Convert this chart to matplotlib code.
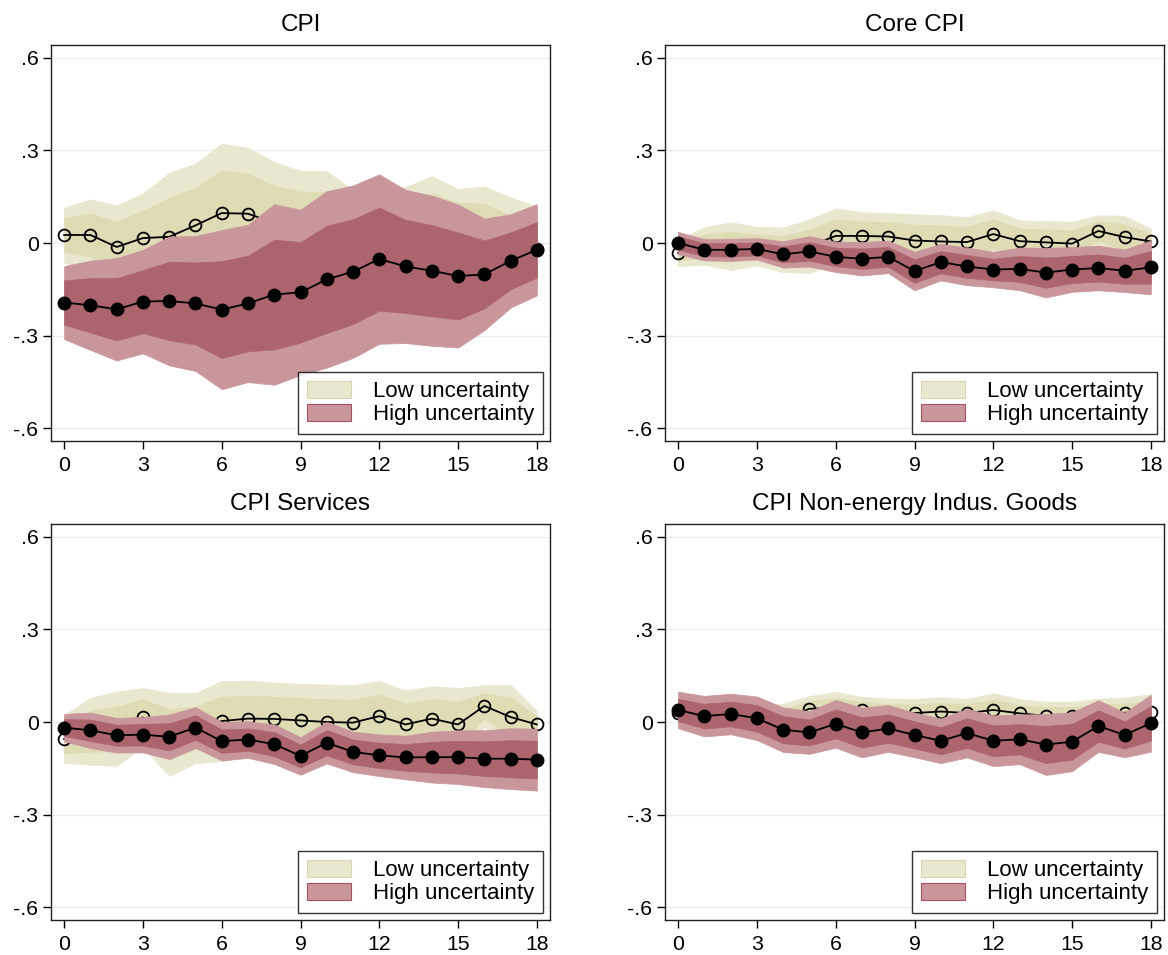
import numpy as np
import matplotlib
matplotlib.use("Agg")
import matplotlib.pyplot as plt
from matplotlib.patches import Patch

plt.rcParams['font.family'] = ['Liberation Sans', 'DejaVu Sans']

horizon = np.arange(19)

# point estimates and standard errors, low / high uncertainty regimes
cpi_low = [0.026, 0.026, -0.013, 0.016, 0.020, 0.057, 0.097, 0.095, 0.065, 0.060,
           0.060, 0.040, 0.030, 0.050, 0.080, 0.060, 0.040, 0.000, -0.020]
cpi_low_se = [0.054, 0.070, 0.082, 0.088, 0.126, 0.122, 0.137, 0.130, 0.120, 0.106,
              0.105, 0.080, 0.085, 0.080, 0.083, 0.070, 0.087, 0.090, 0.084]
cpi_high = [-0.193, -0.202, -0.215, -0.190, -0.188, -0.196, -0.216, -0.196, -0.167, -0.160,
            -0.118, -0.093, -0.052, -0.076, -0.090, -0.107, -0.102, -0.058, -0.022]
cpi_high_se = [0.072, 0.088, 0.101, 0.102, 0.127, 0.133, 0.157, 0.155, 0.178, 0.163,
               0.174, 0.170, 0.167, 0.151, 0.148, 0.141, 0.110, 0.092, 0.090]

core_low = [-0.032, -0.010, -0.010, -0.010, -0.022, -0.010, 0.023, 0.023, 0.021, 0.008,
            0.005, 0.003, 0.029, 0.006, 0.002, -0.002, 0.039, 0.019, 0.005]
core_low_se = [0.026, 0.037, 0.047, 0.038, 0.044, 0.053, 0.054, 0.047, 0.046, 0.052,
               0.052, 0.049, 0.047, 0.041, 0.042, 0.043, 0.031, 0.042, 0.025]
core_high = [0.000, -0.022, -0.022, -0.019, -0.037, -0.027, -0.045, -0.051, -0.045, -0.091,
             -0.062, -0.076, -0.086, -0.084, -0.096, -0.086, -0.081, -0.090, -0.079]
core_high_se = [0.022, 0.021, 0.022, 0.021, 0.026, 0.030, 0.030, 0.033, 0.032, 0.038,
                0.036, 0.037, 0.035, 0.042, 0.049, 0.044, 0.044, 0.042, 0.053]

serv_low = [-0.055, -0.030, -0.022, 0.015, -0.040, -0.020, 0.003, 0.011, 0.010, 0.005,
            0.000, -0.002, 0.019, -0.008, 0.011, -0.008, 0.052, 0.016, -0.008]
serv_low_se = [0.047, 0.066, 0.073, 0.058, 0.082, 0.069, 0.079, 0.075, 0.072, 0.072,
               0.074, 0.074, 0.069, 0.067, 0.064, 0.072, 0.041, 0.063, 0.027]
serv_high = [-0.018, -0.027, -0.043, -0.041, -0.048, -0.018, -0.062, -0.057, -0.072, -0.110,
             -0.067, -0.097, -0.108, -0.115, -0.114, -0.114, -0.119, -0.119, -0.122]
serv_high_se = [0.027, 0.035, 0.034, 0.035, 0.044, 0.040, 0.038, 0.036, 0.039, 0.037,
                0.041, 0.040, 0.041, 0.043, 0.050, 0.053, 0.056, 0.060, 0.061]

neig_low = [0.030, 0.020, 0.020, 0.010, 0.010, 0.043, 0.045, 0.039, 0.030, 0.029,
            0.034, 0.029, 0.039, 0.028, 0.020, 0.020, 0.030, 0.030, 0.031]
neig_low_se = [0.025, 0.025, 0.025, 0.028, 0.030, 0.025, 0.032, 0.026, 0.028, 0.028,
               0.028, 0.028, 0.033, 0.028, 0.028, 0.028, 0.028, 0.030, 0.036]
neig_high = [0.039, 0.019, 0.026, 0.012, -0.025, -0.034, -0.006, -0.034, -0.021, -0.042,
             -0.061, -0.036, -0.061, -0.056, -0.073, -0.064, -0.013, -0.042, -0.004]
neig_high_se = [0.036, 0.040, 0.040, 0.043, 0.044, 0.042, 0.047, 0.049, 0.046, 0.044,
                0.044, 0.048, 0.050, 0.049, 0.060, 0.058, 0.051, 0.044, 0.056]

titles = ['CPI', 'Core CPI', 'CPI Services', 'CPI Non-energy Indus. Goods']
panels = [(cpi_low, cpi_low_se, cpi_high, cpi_high_se),
          (core_low, core_low_se, core_high, core_high_se),
          (serv_low, serv_low_se, serv_high, serv_high_se),
          (neig_low, neig_low_se, neig_high, neig_high_se)]

low_out, low_in = '#e9e7cd', '#dedbb5'
high_out, high_in = '#c9969b', '#ac656c'
z68, z90 = 1.0, 1.645

yticks = [-0.6, -0.3, 0, 0.3, 0.6]
ylabels = ['-.6', '-.3', '0', '.3', '.6']

W, H = 1168, 955
fig = plt.figure(figsize=(W / 100, H / 100), dpi=100)
lefts = [51, 665, 51, 665]
bottoms = [441, 441, 920, 920]

for k, (title, (lo, lo_se, hi, hi_se)) in enumerate(zip(titles, panels)):
    ax = fig.add_axes([lefts[k] / W, 1 - bottoms[k] / H, 499 / W, 396 / H])
    lo, lo_se, hi, hi_se = map(np.asarray, (lo, lo_se, hi, hi_se))

    for y in yticks:
        ax.axhline(y, color='#e6eff1', lw=1.0, zorder=0)

    # low uncertainty: 90% and 68% bands, then estimate
    ax.fill_between(horizon, lo - z90 * lo_se, lo + z90 * lo_se, color=low_out, lw=0.5, zorder=1)
    ax.fill_between(horizon, lo - z68 * lo_se, lo + z68 * lo_se, color=low_in, lw=0.5, zorder=1)
    ax.plot(horizon, lo, color='black', lw=1.3, marker='o', ms=8.5, mfc='none',
            mec='black', mew=1.3, zorder=2)

    # high uncertainty drawn on top
    ax.fill_between(horizon, hi - z90 * hi_se, hi + z90 * hi_se, color=high_out, lw=0.5, zorder=3)
    ax.fill_between(horizon, hi - z68 * hi_se, hi + z68 * hi_se, color=high_in, lw=0.5, zorder=3)
    ax.plot(horizon, hi, color='black', lw=1.3, marker='o', ms=9, mfc='black',
            mec='black', zorder=4)

    ax.set_xlim(-0.5, 18.5)
    ax.set_ylim(-0.642, 0.642)
    ax.set_xticks(np.arange(0, 19, 3))
    ax.set_yticks(yticks)
    ax.set_yticklabels(ylabels)
    ax.tick_params(axis='both', direction='out', length=6, width=1.0, labelsize=15.3, colors='black')
    ax.tick_params(axis='x', pad=5)
    ax.tick_params(axis='y', pad=3)
    for s in ax.spines.values():
        s.set_linewidth(1.0)
        s.set_color('#222222')
    ax.set_title(title, fontsize=17.5, pad=10)

    handles = [Patch(facecolor=low_out, edgecolor='#d8d5b0', lw=0.8),
               Patch(facecolor=high_out, edgecolor='#a5505c', lw=0.8)]
    leg = ax.legend(handles, ['Low uncertainty', 'High uncertainty'], loc='lower right',
                    fontsize=16, frameon=True, fancybox=False, borderaxespad=0.3,
                    handlelength=2.0, handleheight=0.8, handletextpad=1.0,
                    labelspacing=0.1, borderpad=0.4)
    leg.get_frame().set_edgecolor('black')
    leg.get_frame().set_linewidth(1.0)
    leg.set_zorder(10)

fig.savefig('out.png', dpi=100, facecolor='white')
